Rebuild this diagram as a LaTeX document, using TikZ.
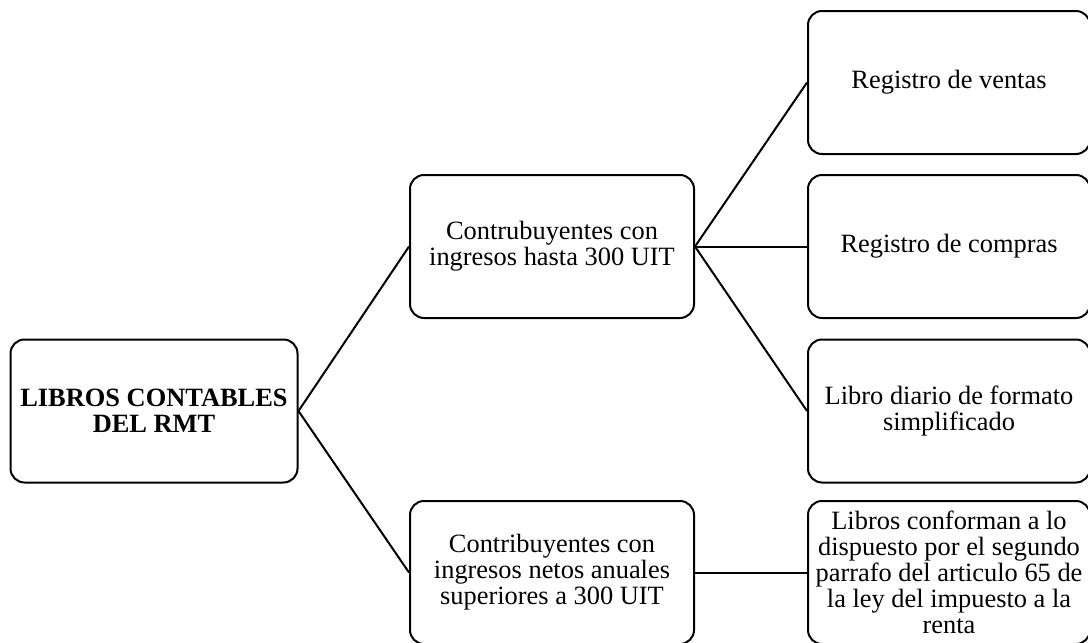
\documentclass[tikz,border=0pt]{standalone}
\usepackage{fontspec}
\setmainfont{Liberation Serif}
\usetikzlibrary{positioning}

\begin{document}
\begin{tikzpicture}[
  x=0.5pt,y=-0.5pt,
  every node/.style={font=\fontsize{13.2}{13}\selectfont, align=center},
  box/.style={draw=black,line width=1pt,rounded corners=7pt,
              minimum width=142pt,minimum height=71.5pt},
  every edge/.style={draw=black,line width=1pt}]

  \useasboundingbox (0,0) rectangle (1088,643);

  \node[box, minimum width=143.5pt] (lib) at (154,411)   {\textbf{LIBROS CONTABLES}\\\textbf{DEL RMT}};
  \node[box]                        (hst) at (552,246.5) {Contrubuyentes con\\ingresos hasta 300 UIT};
  \node[box]                        (sup) at (552,572.5) {Contribuyentes con\\ingresos netos anuales\\superiores a 300 UIT};
  \node[box, minimum width=141pt]   (ven) at (949,82.5)  {Registro de ventas};
  \node[box, minimum width=141pt]   (cmp) at (949,246.5) {Registro de compras};
  \node[box, minimum width=141pt]   (dia) at (949,411)   {Libro diario de formato\\simplificado};
  \node[box, minimum width=141pt, inner sep=1pt]
                                    (ren) at (949,572.5) {Libros conforman a lo\\dispuesto por el segundo\\parrafo del articulo 65 de\\la ley del impuesto a la\\renta};

  \path
    (lib.east) edge (hst.west)
    (lib.east) edge (sup.west)
    (hst.east) edge (ven.west)
    (hst.east) edge (cmp.west)
    (hst.east) edge (dia.west)
    (sup.east) edge (ren.west)
  ;

\end{tikzpicture}
\end{document}
